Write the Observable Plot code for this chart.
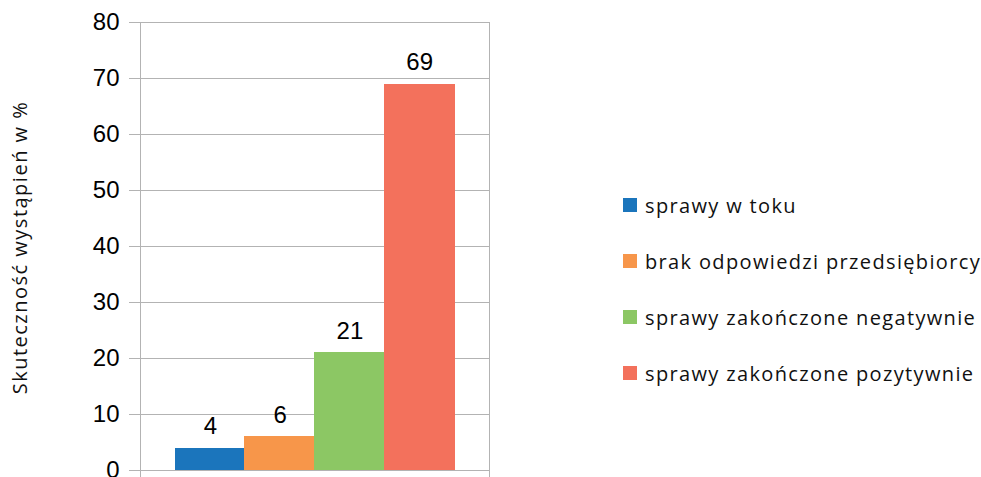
<!DOCTYPE html>
<html><head><meta charset="utf-8">
<script src="https://cdn.jsdelivr.net/npm/d3@7"></script>
<script src="https://cdn.jsdelivr.net/npm/@observablehq/plot@0.6"></script>
<style>
html,body{margin:0;padding:0;background:#fff;overflow:hidden}
#wrap{position:relative;width:981px;height:477px}
#legend{position:absolute;left:623px;top:0;font-family:"Open Sans";font-size:20px;letter-spacing:1.35px;color:#111}
.item{position:absolute;left:0;white-space:nowrap;display:flex;align-items:center;height:22px}
.sw{width:14px;height:14px;margin-right:8px;flex:none}
</style></head><body><div id="wrap"><div id="chart"></div><div id="legend"></div></div>
<script>
const categories = ["sprawy w toku", "brak odpowiedzi przedsiębiorcy", "sprawy zakończone negatywnie", "sprawy zakończone pozytywnie"];
const values = [4, 6, 21, 69];
const colors = ["#1b75bc", "#f7964a", "#8cc764", "#f3715c"];
const yTicks = [0, 10, 20, 30, 40, 50, 60, 70, 80];
const yLabel = "Skuteczność wystąpień w %";

const data = categories.map((c, i) => ({category: c, value: values[i]}));

const chart = Plot.plot({
  width: 981, height: 477,
  marginLeft: 140, marginRight: 492, marginTop: 22, marginBottom: 7,
  style: {fontFamily: "Liberation Sans", fontSize: "24px", background: "white", overflow: "visible"},
  x: {domain: categories, paddingInner: 0, paddingOuter: 0.5, round: false, axis: null},
  y: {domain: [0, 80], axis: null},
  color: {domain: categories, range: colors},
  marks: [
    Plot.gridY(yTicks, {stroke: "#b3b3b3", strokeOpacity: 1}),
    Plot.axisY(yTicks, {tickSize: 11, tickPadding: 10, stroke: "#b3b3b3", fill: "black", fontSize: 24, label: null}),
    Plot.frame({stroke: "#b3b3b3", insetBottom: -9}),
    Plot.barY(data, {x: "category", y: "value", fill: "category", insetLeft: -0.4, insetRight: -0.4, shapeRendering: "crispEdges"}),
    Plot.text(data, {x: "category", y: "value", text: d => String(d.value), lineAnchor: "bottom", dy: -14, fontSize: 24, fill: "black"}),
    Plot.text([yLabel], {frameAnchor: "left", textAnchor: "middle", rotate: -90, dx: -120, dy: 1, text: d => d, fontFamily: "Open Sans", fontSize: 20, fill: "#111"})
  ]
});
d3.select(chart).selectAll("text").filter(function () { return this.textContent === yLabel; }).style("letter-spacing", "1.5px");
document.getElementById("chart").appendChild(chart);

const legend = document.getElementById("legend");
categories.forEach((c, i) => {
  const item = document.createElement("div");
  item.className = "item";
  item.style.top = (205 + 56 * i - 11) + "px";
  const sw = document.createElement("span");
  sw.className = "sw";
  sw.style.background = colors[i];
  const t = document.createElement("span");
  t.textContent = c;
  item.appendChild(sw);
  item.appendChild(t);
  legend.appendChild(item);
});
</script></body></html>
